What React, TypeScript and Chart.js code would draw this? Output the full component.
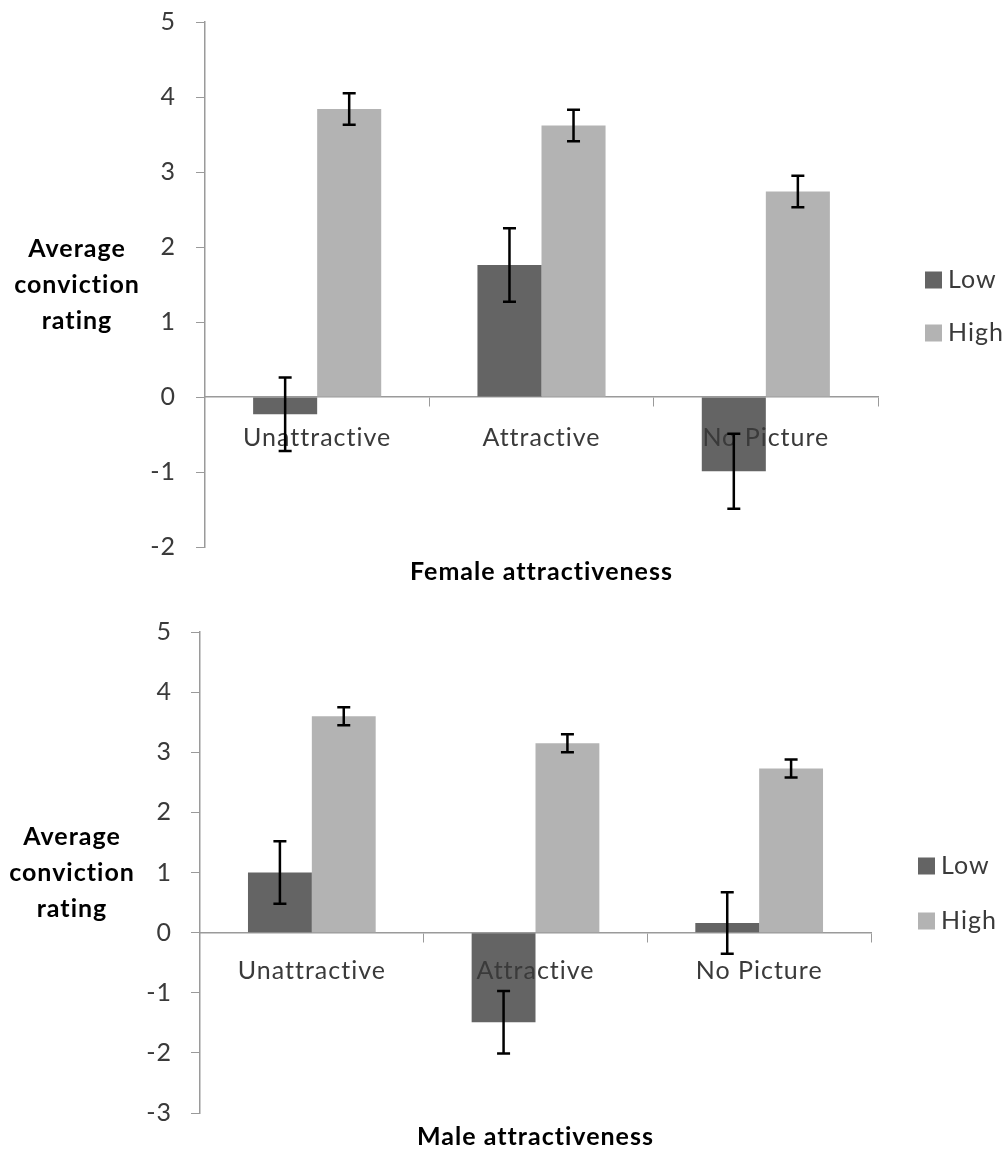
import React, { useEffect, useRef } from "react";
import { Chart, registerables } from "chart.js";

Chart.register(...registerables);

const categories = ["Unattractive", "Attractive", "No Picture"];
const seriesNames = ["Low", "High"];

const femaleLow = [-0.23, 1.76, -0.99];
const femaleHigh = [3.84, 3.62, 2.74];
const femaleLowErr = [0.49, 0.49, 0.5];
const femaleHighErr = [0.21, 0.21, 0.21];
const femaleTicks = [-2, -1, 0, 1, 2, 3, 4, 5];

const maleLow = [1.0, -1.49, 0.16];
const maleHigh = [3.6, 3.15, 2.73];
const maleLowErr = [0.52, 0.52, 0.51];
const maleHighErr = [0.15, 0.15, 0.15];
const maleTicks = [-3, -2, -1, 0, 1, 2, 3, 4, 5];

const yTitleLines = ["Average", "conviction", "rating"];

const LOW_COLOR = "#646464";
const HIGH_COLOR = "#b3b3b3";
const AXIS_COLOR = "#9a9a9a";
const TEXT_COLOR = "#3a3a3a";
const FONT = "Lato";
const FS = 25;

type PanelCfg = {
  low: number[];
  high: number[];
  lowErr: number[];
  highErr: number[];
  ticks: number[];
  xTitle: string;
  top: number;
  height: number;
  padLeft: number;
  padRight: number;
  padTop: number;
  padBottom: number;
  yAxisWidth: number;
  yTitleX: number;
  legendX: number;
  legendY: number[];
  xLabelPad: number;
  yLabelPad: number;
  xTitleOffset: number;
};

function Panel({ cfg }: { cfg: PanelCfg }) {
  const ref = useRef<HTMLCanvasElement | null>(null);
  useEffect(() => {
    if (!ref.current) return;
    const errs = [cfg.lowErr, cfg.highErr];
    const overlay = {
      id: "overlay",
      beforeDraw(chart: any) {
        (chart.ctx as any).letterSpacing = "1px";
      },
      afterDraw(chart: any) {
        const ctx = chart.ctx as CanvasRenderingContext2D;
        const ca = chart.chartArea;
        const yS = chart.scales.y;
        // error bars
        chart.data.datasets.forEach((ds: any, di: number) => {
          const meta = chart.getDatasetMeta(di);
          meta.data.forEach((bar: any, i: number) => {
            const v = ds.data[i];
            const e = errs[di][i];
            const x = bar.x;
            const y1 = yS.getPixelForValue(v + e);
            const y2 = yS.getPixelForValue(v - e);
            ctx.save();
            ctx.strokeStyle = "#000";
            ctx.lineWidth = 2.5;
            ctx.beginPath();
            ctx.moveTo(x, y1);
            ctx.lineTo(x, y2);
            ctx.moveTo(x - 6.5, y1);
            ctx.lineTo(x + 6.5, y1);
            ctx.moveTo(x - 6.5, y2);
            ctx.lineTo(x + 6.5, y2);
            ctx.stroke();
            ctx.restore();
          });
        });
        // y title
        ctx.save();
        ctx.fillStyle = "#000";
        ctx.font = `bold ${FS}px ${FONT}`;
        ctx.textAlign = "center";
        ctx.textBaseline = "middle";
        const cy = (ca.top + ca.bottom) / 2;
        yTitleLines.forEach((t, i) => {
          ctx.fillText(t, cfg.yTitleX, cy + (i - 1) * 36);
        });
        // x title
        ctx.fillText(cfg.xTitle, (ca.left + ca.right) / 2, ca.bottom + cfg.xTitleOffset);
        // legend
        ctx.font = `${FS}px ${FONT}`;
        ctx.textAlign = "left";
        [LOW_COLOR, HIGH_COLOR].forEach((c, i) => {
          const ly = cfg.legendY[i];
          ctx.fillStyle = c;
          ctx.fillRect(cfg.legendX, ly - 8.5, 17, 17);
          ctx.fillStyle = TEXT_COLOR;
          ctx.fillText(seriesNames[i], cfg.legendX + 23, ly);
        });
        ctx.restore();
      },
    };

    const chart = new Chart(ref.current, {
      type: "bar",
      data: {
        labels: categories,
        datasets: [
          {
            label: seriesNames[0],
            data: cfg.low,
            backgroundColor: LOW_COLOR,
            borderWidth: 0,
            categoryPercentage: 0.571,
            barPercentage: 1.0,
          },
          {
            label: seriesNames[1],
            data: cfg.high,
            backgroundColor: HIGH_COLOR,
            borderWidth: 0,
            categoryPercentage: 0.571,
            barPercentage: 1.0,
          },
        ],
      },
      options: {
        responsive: false,
        animation: false,
        layout: {
          padding: {
            left: cfg.padLeft,
            right: cfg.padRight,
            top: cfg.padTop,
            bottom: cfg.padBottom,
          },
        },
        plugins: {
          legend: { display: false },
          tooltip: { enabled: false },
          title: { display: false },
        },
        scales: {
          x: {
            position: { y: 0 } as any,
            offset: true,
            ticks: {
              z: 1,
              font: { family: FONT, size: FS },
              color: TEXT_COLOR,
              padding: cfg.xLabelPad,
              maxRotation: 0,
              autoSkip: false,
            },
            grid: {
              drawOnChartArea: false,
              drawTicks: true,
              tickLength: 9,
              color: AXIS_COLOR,
              offset: true,
            },
            border: { color: AXIS_COLOR, width: 1.5 },
          },
          y: {
            min: cfg.ticks[0],
            max: cfg.ticks[cfg.ticks.length - 1],
            afterFit: (s: any) => {
              s.width = cfg.yAxisWidth;
              s.paddingTop = 0;
              s.paddingBottom = 0;
            },
            ticks: {
              stepSize: 1,
              font: { family: FONT, size: FS },
              color: TEXT_COLOR,
              padding: cfg.yLabelPad,
            },
            grid: {
              drawOnChartArea: false,
              drawTicks: true,
              tickLength: 9,
              color: AXIS_COLOR,
            },
            border: { color: AXIS_COLOR, width: 1.5 },
          },
        },
      },
      plugins: [overlay],
    });
    return () => chart.destroy();
  }, [cfg]);

  return (
    <canvas
      ref={ref}
      width={1004}
      height={cfg.height}
      style={{ position: "absolute", left: 0, top: cfg.top, width: 1004, height: cfg.height }}
    />
  );
}

const femaleCfg: PanelCfg = {
  low: femaleLow,
  high: femaleHigh,
  lowErr: femaleLowErr,
  highErr: femaleHighErr,
  ticks: femaleTicks,
  xTitle: "Female attractiveness",
  top: 0,
  height: 595,
  padLeft: 120,
  padRight: 126,
  padTop: 22,
  padBottom: 48,
  yAxisWidth: 85,
  yTitleX: 77,
  legendX: 925,
  legendY: [280, 333],
  xLabelPad: 17,
  yLabelPad: 20,
  xTitleOffset: 25,
};

const maleCfg: PanelCfg = {
  low: maleLow,
  high: maleHigh,
  lowErr: maleLowErr,
  highErr: maleHighErr,
  ticks: maleTicks,
  xTitle: "Male attractiveness",
  top: 595,
  height: 555,
  padLeft: 115,
  padRight: 133,
  padTop: 37,
  padBottom: 37,
  yAxisWidth: 85,
  yTitleX: 72,
  legendX: 918,
  legendY: [271, 326],
  xLabelPad: 14,
  yLabelPad: 19,
  xTitleOffset: 24,
};

export default function App() {
  return (
    <div style={{ position: "absolute", left: 0, top: 0, width: 1004, height: 1150, background: "#fff" }}>
      <Panel cfg={femaleCfg} />
      <Panel cfg={maleCfg} />
    </div>
  );
}
